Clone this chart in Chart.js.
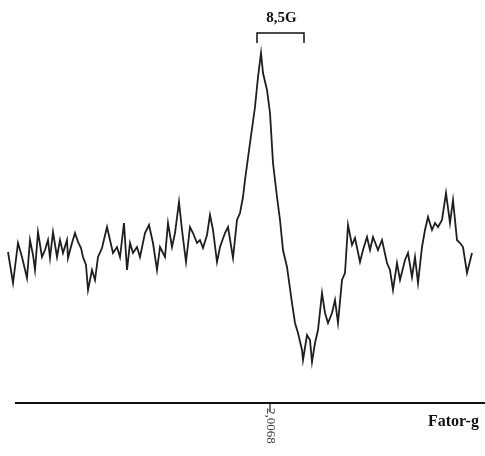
<!DOCTYPE html>
<html>
<head>
<meta charset="utf-8">
<script src="https://cdn.jsdelivr.net/npm/chart.js@4/dist/chart.umd.min.js"></script>
<style>
    html, body { margin: 0; padding: 0; background: #ffffff; }
    #epr { display: block; }
</style>
</head>
<body>
<canvas id="epr" width="485" height="456"></canvas>
<script>
// Campo (eixo horizontal, unidades arbitrárias)
const field = [
    8, 13, 18, 22, 27, 30, 33, 35, 38, 42, 45, 48, 50, 53, 57, 60, 63, 67, 68, 72,
    75, 78, 81, 83, 86, 88, 92, 95, 98, 102, 107, 110, 113, 117, 120, 124, 127, 130, 133, 137,
    140, 145, 149, 153, 157, 160, 165, 168, 172, 175, 179, 182, 186, 190, 193, 197, 200, 203, 207, 210,
    213, 217, 220, 225, 228, 233, 237, 240, 243, 245, 250, 255, 258, 261, 263, 267, 270, 273, 277, 280,
    283, 287, 292, 295, 298, 302, 303, 307, 310, 312, 315, 318, 322, 325, 328, 332, 335, 338, 342, 345,
    348, 352, 355, 360, 363, 367, 370, 373, 378, 382, 387, 390, 393, 397, 400, 405, 408, 412, 415, 418,
    422, 425, 428, 432, 435, 438, 442, 446, 450, 453, 457, 460, 463, 467, 472,
];

// Intensidade do sinal EPR (unidades arbitrárias)
const intensity = [
    -2, -33, 7, -7, -28, 10, -5, -20, 18, -7, 0, 10, -8, 18, -7, 10, -3, 10, -8, 7,
    17, 8, 2, -7, -15, -40, -20, -30, -7, 2, 23, 10, -3, 3, -7, 27, -20, 7, -3, 3,
    -7, 17, 25, 7, -20, 3, -7, 27, 3, 17, 48, 20, -12, 23, 17, 7, 10, 2, 15, 35,
    20, -12, 3, 17, 23, -8, 30, 37, 53, 70, 107, 143, 173, 197, 177, 160, 137, 87, 53, 30,
    0, -17, -53, -73, -83, -100, -110, -85, -90, -112, -93, -80, -43, -63, -73, -63, -50, -73, -30, -23,
    25, 5, 12, -12, 0, 13, 0, 13, 0, 10, -13, -20, -40, -13, -30, -10, -3, -27, -7, -33,
    3, 20, 33, 20, 27, 23, 30, 57, 27, 50, 10, 7, 3, -23, -3,
];

// Rótulos
const tickField = 270;
const tickLabel = '2,0068';
const axisLabel = 'Fator-g';
const widthLabel = '8,5G';
const widthFrom = 257;
const widthTo = 304;

const axisLevel = -153;

const eprDecor = {
    id: 'eprDecor',
    afterDraw(chart) {
        const { ctx } = chart;
        const x = chart.scales.x;
        const y = chart.scales.y;
        const yAxis = y.getPixelForValue(axisLevel);

        ctx.save();
        ctx.strokeStyle = '#111';
        ctx.fillStyle = '#111';

        // eixo horizontal
        ctx.lineWidth = 2;
        ctx.beginPath();
        ctx.moveTo(x.getPixelForValue(15), yAxis);
        ctx.lineTo(x.getPixelForValue(485), yAxis);
        ctx.stroke();

        // marca do fator-g
        const xt = x.getPixelForValue(tickField);
        ctx.lineWidth = 1.2;
        ctx.beginPath();
        ctx.moveTo(xt, yAxis);
        ctx.lineTo(xt, yAxis + 9);
        ctx.stroke();

        ctx.save();
        ctx.translate(xt, yAxis + 5);
        ctx.rotate(Math.PI / 2);
        ctx.font = '13px "Liberation Serif"';
        ctx.fillStyle = '#444';
        ctx.textAlign = 'left';
        ctx.textBaseline = 'middle';
        ctx.fillText(tickLabel, 0, 0);
        ctx.restore();

        ctx.font = 'bold 16px "Liberation Serif"';
        ctx.textAlign = 'left';
        ctx.textBaseline = 'alphabetic';
        ctx.fillText(axisLabel, x.getPixelForValue(428), yAxis + 23);

        // largura de linha
        const x1 = x.getPixelForValue(widthFrom);
        const x2 = x.getPixelForValue(widthTo);
        ctx.lineWidth = 1.5;
        ctx.beginPath();
        ctx.moveTo(x1, 43);
        ctx.lineTo(x1, 33);
        ctx.lineTo(x2, 33);
        ctx.lineTo(x2, 43);
        ctx.stroke();

        ctx.font = 'bold 15px "Liberation Serif"';
        ctx.textAlign = 'center';
        ctx.fillText(widthLabel, (x1 + x2) / 2 + 1, 22);
        ctx.restore();
    },
};

new Chart(document.getElementById('epr'), {
    type: 'line',
    data: {
        datasets: [{
            data: field.map((f, i) => ({ x: f, y: intensity[i] })),
            borderColor: '#1e1e1e',
            borderWidth: 1.8,
            pointRadius: 0,
            tension: 0,
            fill: false,
        }],
    },
    options: {
        responsive: false,
        animation: false,
        layout: { padding: 0 },
        plugins: {
            legend: { display: false },
            tooltip: { enabled: false },
        },
        scales: {
            x: { type: 'linear', min: 0, max: 485, display: false },
            y: { type: 'linear', min: -206, max: 250, display: false },
        },
    },
    plugins: [eprDecor],
});
</script>
</body>
</html>
